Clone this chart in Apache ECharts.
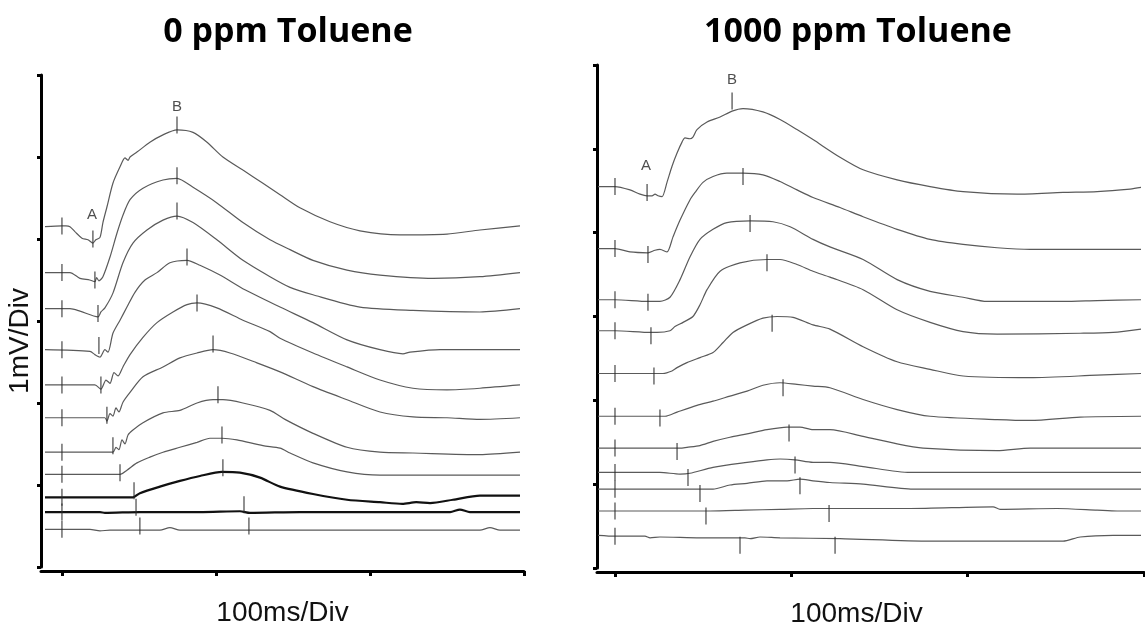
<!DOCTYPE html>
<html><head><meta charset="utf-8">
<script src="https://cdn.jsdelivr.net/npm/echarts@6/dist/echarts.min.js"></script>
<style>html,body{margin:0;padding:0;background:#fff}#c{width:1145px;height:633px}</style>
</head><body><div id="c"></div><script>
// ---- data (time in ms, amplitude in mV) ----
const xTicks = [0, 100, 200, 300];
const titles = ['0 ppm Toluene', '1000 ppm Toluene'];
const xName = '100ms/Div';
const yName = '1mV/Div';

// Left panel: 0 ppm
const L1 = [[-11,4.15],[0,4.16],[2.6,4.16],[5.2,4.15],[8.4,4.09],[13,4.01],[16.9,3.99],[20.1,3.95],[22,3.99],[24.7,4.02],[26.6,4.2],[29.2,4.39],[33.1,4.68],[37.7,4.88],[40.9,4.99],[42.9,4.96],[44.2,5.0],[48.7,5.06],[57.1,5.18],[65.6,5.27],[74.7,5.33],[85.1,5.3],[94.2,5.18],[104.5,5.0],[117.5,4.84],[130.5,4.68],[141.6,4.54],[154.5,4.38],[174,4.21],[193.5,4.1],[219.5,4.05],[250,4.06],[271.4,4.11],[297.4,4.16]];
const L2 = [[-11,3.59],[5.2,3.59],[11.7,3.52],[18,3.5],[21.4,3.48],[22.5,3.53],[24,3.49],[26.6,3.54],[31.2,3.78],[35.7,4.07],[39.6,4.29],[44.2,4.48],[52.6,4.62],[65.6,4.72],[74.7,4.74],[85.1,4.63],[100.6,4.44],[117.5,4.2],[135.1,3.99],[148.1,3.87],[163,3.74],[185.1,3.62],[206.5,3.56],[240.9,3.52],[271.4,3.54],[297.4,3.59]];
const L3 = [[-11,3.15],[5.2,3.15],[11.7,3.12],[23.4,3.05],[25.3,3.11],[27.9,3.16],[33.1,3.34],[39.6,3.71],[46.1,3.95],[55.2,4.11],[65.6,4.23],[74.7,4.28],[85.1,4.2],[100.6,3.99],[117.5,3.74],[135.1,3.54],[148.1,3.41],[163,3.32],[193.5,3.17],[227.9,3.13],[271.4,3.11],[297.4,3.15]];
const L4 = [[-11,2.65],[18.2,2.63],[21.4,2.59],[24.7,2.56],[27.9,2.65],[29.9,2.62],[33.1,2.85],[37.7,3.01],[42.2,3.17],[47.4,3.35],[53.9,3.5],[61.7,3.59],[70.1,3.71],[81.2,3.74],[89.6,3.68],[102.6,3.56],[118.8,3.38],[141.6,3.17],[163,2.98],[185.1,2.77],[206.5,2.65],[221.4,2.6],[226,2.62],[245.5,2.65],[297.4,2.65]];
const L5 = [[-11,2.22],[21.4,2.22],[25.3,2.17],[28.6,2.28],[31.2,2.24],[33.8,2.37],[36.4,2.33],[39.6,2.44],[44.2,2.59],[52.6,2.8],[61.7,2.98],[72.1,3.11],[81.2,3.2],[87.7,3.22],[100.6,3.16],[117.5,3.01],[135.1,2.87],[141.6,2.79],[163,2.61],[185.1,2.44],[206.5,2.28],[227.9,2.18],[250,2.16],[271.4,2.18],[297.4,2.22]];
const L6 = [[-11,1.82],[27.9,1.82],[29.2,1.78],[31.2,1.87],[33.1,1.84],[35.1,1.94],[37,1.89],[39.6,2.01],[44.2,2.13],[52.6,2.32],[65.6,2.44],[76.6,2.55],[87.7,2.61],[98.1,2.65],[109.1,2.61],[126.6,2.49],[141.6,2.38],[163,2.2],[185.1,2.04],[206.5,1.89],[227.9,1.83],[250,1.82],[271.4,1.8],[297.4,1.82]];
const L7 = [[-11,1.4],[33.1,1.4],[35.1,1.46],[37,1.43],[39,1.55],[40.9,1.5],[42.9,1.61],[46.1,1.67],[52.6,1.76],[65.6,1.88],[76.6,1.91],[87.7,2.0],[98.1,2.04],[104.5,2.04],[117.5,2.0],[135.1,1.91],[144.8,1.8],[163,1.63],[185.1,1.46],[206.5,1.4],[227.9,1.39],[271.4,1.37],[297.4,1.4]];
const L8 = [[-11,1.13],[37.7,1.13],[42.2,1.18],[48.7,1.27],[57.1,1.34],[65.6,1.4],[76.6,1.46],[87.7,1.52],[96.1,1.57],[103.9,1.57],[113.6,1.55],[130.5,1.48],[141.6,1.45],[148.1,1.39],[163,1.27],[185.1,1.16],[206.5,1.12],[297.4,1.12]];
const L9 = [[-11,0.85],[46.1,0.85],[50.6,0.9],[63.6,0.98],[76.6,1.05],[89.6,1.11],[103.9,1.16],[115.6,1.15],[128.6,1.09],[141.6,0.98],[163,0.89],[185.1,0.82],[206.5,0.79],[221,0.77],[230,0.79],[239,0.78],[253.9,0.82],[271.4,0.87],[297.4,0.87]];
const L10 = [[-11,0.67],[24.7,0.67],[27.9,0.66],[50.6,0.67],[89.6,0.67],[115.6,0.68],[122.1,0.66],[154.5,0.67],[252,0.67],[258.4,0.7],[264.9,0.67],[297.4,0.67]];
const L11 = [[-11,0.46],[18.2,0.46],[24.7,0.44],[31.2,0.45],[63.6,0.45],[70.1,0.48],[76.6,0.45],[271.4,0.45],[277.9,0.48],[284.4,0.45],[297.4,0.45]];
const stimL = [4.16,3.59,3.15,2.65,2.22,1.82,1.40,1.13,0.85,0.67,0.46];
const aTicksL = [[20.1,4.0],[21.4,3.5],[23.4,3.09],[24.0,2.7],[25.3,2.22],[29.2,1.85],[33.1,1.48],[37.7,1.15],[46.8,0.93],[48.1,0.73],[50.6,0.5]];
const bTicksL = [[74.7,5.39],[74.7,4.77],[74.7,4.34],[81.2,3.78],[87.7,3.22],[98.1,2.72],[101.3,2.1],[103.9,1.61],[104.5,1.21],[118.2,0.76],[121.4,0.5]];
const labelsL = [['A',19.5,4.29],['B',74.7,5.61]];

// Right panel: 1000 ppm
const R1 = [[-9.6,4.55],[0,4.55],[8.5,4.51],[14.2,4.46],[18.2,4.44],[21,4.44],[22.7,4.46],[24.4,4.44],[26.7,4.43],[29.5,4.6],[32.3,4.79],[35.2,4.95],[38,5.08],[39.7,5.13],[42.5,5.12],[44.2,5.14],[46.5,5.23],[52.2,5.32],[59.6,5.38],[66.4,5.45],[72.6,5.48],[83.9,5.44],[93.6,5.35],[103.2,5.23],[112.3,5.11],[127.6,4.9],[140.7,4.75],[160,4.63],[178.7,4.55],[197.4,4.49],[228,4.46],[254.1,4.48],[273.4,4.49],[292.1,4.52],[298.3,4.54]];
const R2 = [[-9.6,3.81],[0,3.81],[8.5,3.77],[18.7,3.76],[22.7,3.79],[25.5,3.8],[29.5,3.77],[32.9,3.95],[36.9,4.15],[42.5,4.39],[45.4,4.48],[49.9,4.6],[55.6,4.67],[63.5,4.71],[72.6,4.71],[83.9,4.69],[93.6,4.61],[103.2,4.51],[112.3,4.42],[127.6,4.3],[140.7,4.19],[160,4.04],[178.7,3.92],[197.4,3.86],[216.7,3.82],[235.4,3.8],[298.3,3.8]];
const R3 = [[-9.6,3.2],[0,3.2],[18.7,3.18],[25.5,3.18],[31.2,3.23],[36.9,3.44],[42.5,3.71],[48.2,3.92],[55.6,4.04],[63.5,4.12],[76.6,4.14],[89.6,4.13],[99.3,4.07],[112.3,3.92],[121.9,3.83],[140.7,3.68],[160,3.44],[178.7,3.3],[197.4,3.23],[211,3.18],[254.1,3.18],[273.4,3.19],[298.3,3.2]];
const R4 = [[-9.6,2.83],[0,2.83],[20.4,2.81],[23.8,2.81],[31.2,2.83],[34,2.88],[38.6,2.93],[44.2,3.0],[48.2,3.14],[52.2,3.32],[59.6,3.54],[70.9,3.64],[86.2,3.68],[93.6,3.68],[103.2,3.62],[112.3,3.54],[121.9,3.47],[140.7,3.32],[160,3.08],[178.7,2.93],[197.4,2.82],[216.7,2.79],[263.8,2.8],[282.5,2.81],[298.3,2.85]];
const R5 = [[-9.6,2.32],[0,2.32],[27.2,2.32],[32.3,2.35],[35.2,2.39],[40.8,2.45],[48.2,2.51],[55.6,2.57],[61.3,2.69],[66.9,2.81],[74.9,2.9],[83.9,2.98],[91.9,3.0],[101,2.99],[112.3,2.9],[121.9,2.85],[140.7,2.64],[160,2.46],[178.7,2.37],[197.4,2.29],[235.4,2.27],[273.4,2.3],[298.3,2.32]];
const R6 = [[-9.6,1.81],[0,1.81],[28.4,1.81],[35.2,1.86],[46.5,1.94],[55.6,1.99],[65.2,2.05],[74.9,2.11],[83.9,2.18],[93.6,2.21],[103.2,2.19],[112.3,2.17],[121.9,2.15],[140.7,2.01],[160,1.89],[178.7,1.81],[216.7,1.77],[235.4,1.76],[263.8,1.8],[298.3,1.81]];
const R7 = [[-9.6,1.43],[0,1.43],[36.9,1.43],[40.8,1.44],[48.2,1.46],[55.6,1.51],[65.2,1.56],[74.9,1.6],[86.2,1.65],[97.6,1.68],[104.9,1.68],[112.3,1.65],[121.9,1.65],[140.7,1.57],[160,1.48],[174.7,1.43],[216.7,1.4],[235.4,1.43],[298.3,1.43]];
const R8 = [[-9.6,1.14],[0,1.14],[25.5,1.14],[36.9,1.12],[42.5,1.13],[55.6,1.2],[74.9,1.26],[86.2,1.29],[93.6,1.3],[102.1,1.29],[112.3,1.26],[121.9,1.26],[140.7,1.21],[167.3,1.14],[298.3,1.14]];
const R9 = [[-9.6,0.94],[0,0.94],[55.6,0.94],[65.2,0.99],[74.9,1.01],[86.2,1.04],[97.6,1.04],[104.9,1.06],[112.3,1.04],[121.9,1.02],[140.7,1.0],[169,0.94],[298.3,0.94]];
const R10 = [[-9.6,0.68],[0,0.68],[53.9,0.68],[73.7,0.69],[93.6,0.7],[112.3,0.71],[167.3,0.71],[214.4,0.73],[218.4,0.7],[250.7,0.71],[273.4,0.69],[284.7,0.68],[298.3,0.68]];
const R11 = [[-9.6,0.39],[0,0.38],[17,0.38],[19.9,0.36],[25.5,0.37],[48.2,0.36],[55.6,0.36],[73.7,0.36],[76.6,0.35],[82.2,0.37],[93.6,0.36],[127.6,0.35],[178.7,0.32],[254.1,0.32],[263.8,0.37],[282.5,0.39],[298.3,0.39]];
const stimR = [4.55,3.81,3.2,2.83,2.32,1.81,1.43,1.14,0.94,0.68,0.38];
const aTicksR = [[18.2,4.48],[18.7,3.74],[18.7,3.17],[20.4,2.77],[22.1,2.29],[25.5,1.79],[35.2,1.39],[41.4,1.08],[48.2,0.89],[51.6,0.62],[70.9,0.27]];
const bTicksR = [[66.4,5.57],[72.6,4.67],[76.6,4.11],[86.2,3.64],[89.1,2.92],[95.3,2.15],[98.7,1.61],[102.1,1.23],[104.9,0.98],[121.4,0.65],[124.8,0.27]];
const labelsR = [['A',17.6,4.80],['B',66.4,5.82]];

const leftTraces = [L1,L2,L3,L4,L5,L6,L7,L8,L9,L10,L11];
const rightTraces = [R1,R2,R3,R4,R5,R6,R7,R8,R9,R10,R11];
const thickLeft = [8, 9]; // indices of bold traces in left panel

// ---- chart ----
const chart = echarts.init(document.getElementById('c'), null, {renderer: 'canvas'});
const AX = '#000';
const FONT = 'Liberation Sans, Arial, sans-serif';

function xAxisCfg(gi, min, pad) {
  return {
    type: 'value', gridIndex: gi, min: min, max: 300, offset: 4,
    axisLine: {show: true, onZero: false, lineStyle: {color: AX, width: 3}},
    axisTick: {show: true, customValues: xTicks, length: 5, lineStyle: {color: AX, width: 3}},
    axisLabel: {show: false}, splitLine: {show: false},
    name: xName, nameLocation: 'middle', nameGap: 28,
    nameTextStyle: {fontFamily: FONT, fontSize: 28, color: '#111', padding: pad}
  };
}
function yAxisCfg(gi, withName) {
  const c = {
    type: 'value', gridIndex: gi, min: 0, max: 6, interval: 1,
    axisLine: {show: true, onZero: false, lineStyle: {color: AX, width: 3}},
    axisTick: {show: true, length: 4, lineStyle: {color: AX, width: 3}},
    axisLabel: {show: false}, splitLine: {show: false}
  };
  if (withName) {
    c.name = yName; c.nameLocation = 'middle'; c.nameGap = 7;
    c.nameTextStyle = {fontFamily: FONT, fontSize: 28, color: '#111', padding: [0, 40, 0, 0]};
  }
  return c;
}

const series = [];
leftTraces.forEach((d, i) => {
  const thick = thickLeft.includes(i);
  series.push({type: 'line', xAxisIndex: 0, yAxisIndex: 0, data: d, showSymbol: false, symbol: 'none', smooth: 0.25,
    silent: true, lineStyle: {color: thick ? '#111' : '#5a5a5a', width: thick ? 2.2 : 1.2}, z: thick ? 3 : 2});
});
rightTraces.forEach((d) => {
  series.push({type: 'line', xAxisIndex: 1, yAxisIndex: 1, data: d, showSymbol: false, symbol: 'none', smooth: 0.25,
    silent: true, lineStyle: {color: '#5a5a5a', width: 1.2}, z: 2});
});
function ticks(gi, pts) {
  return {type: 'scatter', xAxisIndex: gi, yAxisIndex: gi, data: pts, symbol: 'rect', symbolSize: [1.3, 17],
    silent: true, itemStyle: {color: '#2a2a2a'}, z: 4};
}
series.push(ticks(0, stimL.map(v => [0, v])));
series.push(ticks(0, aTicksL));
series.push(ticks(0, bTicksL));
series.push(ticks(1, stimR.map(v => [0, v])));
series.push(ticks(1, aTicksR));
series.push(ticks(1, bTicksR));
function labels(gi, arr) {
  return {type: 'scatter', xAxisIndex: gi, yAxisIndex: gi, symbolSize: 1, silent: true,
    itemStyle: {color: 'rgba(0,0,0,0)'},
    data: arr.map(a => ({name: a[0], value: [a[1], a[2]]})),
    label: {show: true, position: 'inside', formatter: p => p.name, fontFamily: FONT, fontSize: 15, color: '#222'}, z: 5};
}
series.push(labels(0, labelsL));
series.push(labels(1, labelsR));

chart.setOption({
  animation: false,
  backgroundColor: '#fff',
  title: [
    {text: titles[0], left: 283, top: 10, textAlign: 'center',
     textStyle: {fontFamily: 'Open Sans, sans-serif', fontWeight: 'bold', fontSize: 34, color: '#000'}},
    {text: titles[1], left: 853, top: 10, textAlign: 'center',
     textStyle: {fontFamily: 'Open Sans, sans-serif', fontWeight: 'bold', fontSize: 34, color: '#000'}}
  ],
  grid: [
    {left: 41, top: 75, width: 483, height: 492},
    {left: 597, top: 65, width: 547, height: 504}
  ],
  xAxis: [xAxisCfg(0, -13.6, [0, 0, 0, 0]), xAxisCfg(1, -10.2, [0, 28, 0, 0])],
  yAxis: [yAxisCfg(0, true), yAxisCfg(1, false)],
  series: series
});
</script></body></html>
